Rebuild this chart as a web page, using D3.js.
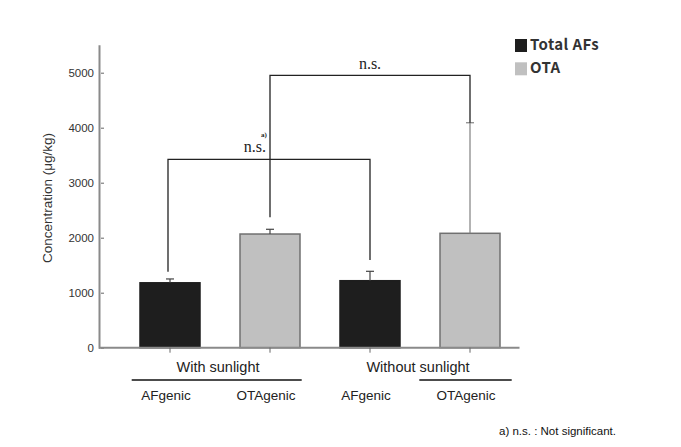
<!DOCTYPE html>
<html>
<head>
<meta charset="utf-8">
<script src="https://cdn.jsdelivr.net/npm/d3@7"></script>
<style>
  body { margin: 0; background: #fff; }
  svg { display: block; }
</style>
</head>
<body>
<script>
// values
var groups = ["With sunlight", "Without sunlight"];
var strains = ["AFgenic", "OTAgenic", "AFgenic", "OTAgenic"];
var series = ["Total AFs", "OTA"];
var barSeries = [0, 1, 0, 1];
var means = [1180, 2067, 1218, 2080];
var errors = [70, 86, 171, 2010];
var yTicks = [0, 1000, 2000, 3000, 4000, 5000];
// significance brackets: from bar, to bar, top / end heights (ug/kg)
var bracketFrom = [0, 1];
var bracketTo = [2, 3];
var bracketTop = [3425, 4950];
var bracketLeftEnd = [1382, 2371];
var bracketRightEnd = [1595, 4090];
var bracketLabel = ["n.s.", "n.s."];
var bracketNote = ["a)", ""];
var footnote = "a) n.s.  :  Not  significant.";

var colors = ["#1e1e1e", "#c0c0c0"];
var strokes = ["#1e1e1e", "#707070"];

var width = 681, height = 447;

var svg = d3.select("body").append("svg")
    .attr("width", width)
    .attr("height", height);

var x = d3.scaleBand()
    .domain(d3.range(means.length))
    .range([120, 520])
    .paddingInner(0.4)
    .paddingOuter(0.2);

var y = d3.scaleLinear()
    .domain([0, 5500])
    .range([347.7, 45.2]);

var cx = function(i) { return x(i) + x.bandwidth() / 2; };

// y axis
var yAxis = svg.append("g")
    .attr("transform", "translate(99.5,0)")
    .call(d3.axisRight(y).tickValues(yTicks).tickSize(3).tickFormat(""));
yAxis.select(".domain").remove();
yAxis.selectAll(".tick line").attr("stroke", "#666").attr("x1", 1.5).attr("x2", 4.5);

svg.append("line")
    .attr("x1", 99.5).attr("x2", 99.5)
    .attr("y1", y(5500)).attr("y2", y(0) + 1)
    .attr("stroke", "#8a8a8a").attr("stroke-width", 2);

svg.selectAll(".ylab")
    .data(yTicks)
  .enter().append("text")
    .attr("class", "ylab")
    .attr("x", 94)
    .attr("y", function(d) { return y(d); })
    .attr("dy", "0.36em")
    .attr("text-anchor", "end")
    .attr("font-family", "Liberation Sans, Arial, sans-serif")
    .attr("font-size", "11.5px")
    .attr("fill", "#333")
    .text(function(d) { return d; });

svg.append("text")
    .attr("transform", "translate(52,198) rotate(-90)")
    .attr("text-anchor", "middle")
    .attr("font-family", "Liberation Sans, Arial, sans-serif")
    .attr("font-size", "13.5px")
    .attr("fill", "#333")
    .text("Concentration (\u03bcg/kg)");

// bars
svg.selectAll(".bar")
    .data(means)
  .enter().append("rect")
    .attr("class", "bar")
    .attr("x", function(d, i) { return x(i); })
    .attr("y", function(d) { return y(d); })
    .attr("width", x.bandwidth())
    .attr("height", function(d) { return y(0) - y(d); })
    .attr("fill", function(d, i) { return colors[barSeries[i]]; })
    .attr("stroke", function(d, i) { return strokes[barSeries[i]]; })
    .attr("stroke-width", 1.5);

// error bars (upper only)
var err = svg.selectAll(".err")
    .data(means)
  .enter().append("g")
    .attr("class", "err")
    .attr("stroke", function(d, i) { return i == 3 ? "#808080" : "#444"; })
    .attr("stroke-width", 1.2);
err.append("line")
    .attr("x1", function(d, i) { return cx(i); })
    .attr("x2", function(d, i) { return cx(i); })
    .attr("y1", function(d) { return y(d); })
    .attr("y2", function(d, i) { return y(d + errors[i]); });
err.append("line")
    .attr("x1", function(d, i) { return cx(i) - 4; })
    .attr("x2", function(d, i) { return cx(i) + 4; })
    .attr("y1", function(d, i) { return y(d + errors[i]); })
    .attr("y2", function(d, i) { return y(d + errors[i]); });

// x axis
svg.append("line")
    .attr("x1", 99).attr("x2", 519.5)
    .attr("y1", y(0)).attr("y2", y(0))
    .attr("stroke", "#8a8a8a").attr("stroke-width", 2);
svg.selectAll(".xtick")
    .data(means)
  .enter().append("line")
    .attr("class", "xtick")
    .attr("x1", function(d, i) { return cx(i); })
    .attr("x2", function(d, i) { return cx(i); })
    .attr("y1", y(0))
    .attr("y2", y(0) + 5)
    .attr("stroke", "#666");

// significance brackets
bracketFrom.forEach(function(a, k) {
  var b = bracketTo[k];
  var xa = cx(a) - (k == 0 ? 2 : 0), xb = cx(b);
  svg.append("path")
      .attr("d", "M" + xa + "," + y(bracketLeftEnd[k]) +
                 "V" + y(bracketTop[k]) +
                 "H" + xb +
                 "V" + y(bracketRightEnd[k]))
      .attr("fill", "none")
      .attr("stroke", "#222")
      .attr("stroke-width", 1.3);
});

// upper bracket label, centred over the bracket
svg.append("text")
    .attr("x", (cx(bracketFrom[1]) + cx(bracketTo[1])) / 2)
    .attr("y", y(bracketTop[1]) - 6)
    .attr("text-anchor", "middle")
    .attr("font-family", "Liberation Serif, Times New Roman, serif")
    .attr("font-size", "16px")
    .attr("fill", "#222")
    .text(bracketLabel[1]);

// lower bracket label sits left of the crossing vertical
svg.append("text")
    .attr("x", cx(bracketFrom[1]) - 4)
    .attr("y", y(bracketTop[0]) - 7)
    .attr("text-anchor", "end")
    .attr("font-family", "Liberation Serif, Times New Roman, serif")
    .attr("font-size", "16px")
    .attr("fill", "#222")
    .text(bracketLabel[0]);
svg.append("text")
    .attr("x", cx(bracketFrom[1]) - 9)
    .attr("y", y(bracketTop[0]) - 22)
    .attr("text-anchor", "start")
    .attr("font-family", "Liberation Serif, Times New Roman, serif")
    .attr("font-size", "7px")
    .attr("font-weight", "bold")
    .attr("fill", "#222")
    .text(bracketNote[0]);

// group labels with underline
var groupSpan = [[131.7, 301.7], [419.3, 511.7]];
svg.selectAll(".grp")
    .data(groups)
  .enter().append("text")
    .attr("class", "grp")
    .attr("x", function(d, i) { return (cx(i * 2) + cx(i * 2 + 1)) / 2 - 2; })
    .attr("y", 372)
    .attr("text-anchor", "middle")
    .attr("font-family", "Liberation Sans, Arial, sans-serif")
    .attr("font-size", "14.5px")
    .attr("fill", "#222")
    .text(function(d) { return d; });
svg.selectAll(".grpline")
    .data(groupSpan)
  .enter().append("line")
    .attr("x1", function(d) { return d[0]; })
    .attr("x2", function(d) { return d[1]; })
    .attr("y1", 380).attr("y2", 380)
    .attr("stroke", "#111")
    .attr("stroke-width", 1.3);

svg.selectAll(".strain")
    .data(strains)
  .enter().append("text")
    .attr("class", "strain")
    .attr("x", function(d, i) { return cx(i) - 4; })
    .attr("y", 400)
    .attr("text-anchor", "middle")
    .attr("font-family", "Liberation Sans, Arial, sans-serif")
    .attr("font-size", "13.5px")
    .attr("fill", "#222")
    .text(function(d) { return d; });

// legend
var legend = svg.selectAll(".leg")
    .data(series)
  .enter().append("g")
    .attr("class", "leg")
    .attr("transform", function(d, i) { return "translate(515," + (39 + i * 23.3) + ")"; });
legend.append("rect")
    .attr("width", 12)
    .attr("height", 13)
    .attr("fill", function(d, i) { return colors[i]; });
legend.append("text")
    .attr("x", 15)
    .attr("y", 11)
    .attr("font-family", "Noto Sans CJK KR, Noto Sans, sans-serif")
    .attr("font-weight", "bold")
    .attr("font-size", "15px")
    .attr("letter-spacing", "0.4px")
    .attr("fill", "#333")
    .text(function(d) { return d; });

// footnote
svg.append("text")
    .attr("x", 499)
    .attr("y", 435)
    .attr("font-family", "Liberation Sans, Arial, sans-serif")
    .attr("font-size", "11.5px")
    .attr("fill", "#111")
    .text(footnote);
</script>
</body>
</html>
